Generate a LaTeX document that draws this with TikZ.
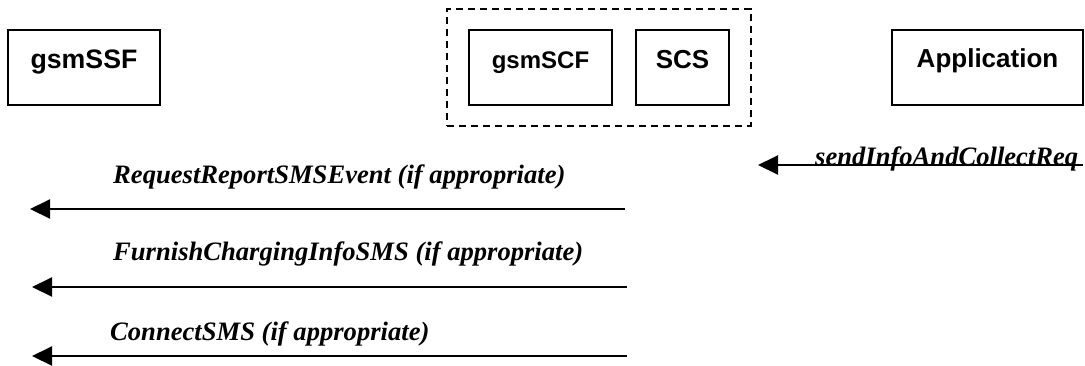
\documentclass[tikz,border=0pt]{standalone}
\usepackage{fontspec}
\setmainfont{Liberation Serif}
\setsansfont{Liberation Sans}
\usetikzlibrary{arrows.meta,positioning,fit}

\begin{document}
\begin{tikzpicture}[x=1pt,y=-1pt,
  entity/.style={draw, line width=1.6pt, inner sep=0pt, minimum height=75pt,
    text height=38pt, text depth=37pt,
    font=\sffamily\bfseries\fontsize{26}{30}\selectfont},
  msg/.style={font=\bfseries\itshape\fontsize{26.6}{30}\selectfont, inner sep=0pt},
  call/.style={line width=2pt, -{Triangle[length=20pt,width=19pt]}}]
\useasboundingbox (0,0) rectangle (1085,365);

% Draw entities
\node[entity, minimum width=152pt, font=\sffamily\bfseries\fontsize{26.7}{30}\selectfont] (ssf) at (84,67.5) {gsmSSF};
\node[entity, minimum width=143pt, font=\sffamily\bfseries\fontsize{24}{30}\selectfont] (scf) at (540.5,67.5) {gsmSCF};
\node[entity, minimum width=93pt] (scs) at (682.5,67.5) {SCS};
\node[entity, minimum width=191pt, text height=37pt, text depth=38pt] (app) at (987.5,67.5) {Application};

% Dashed box round gsmSCF and SCS
\node[draw, line width=1.8pt, dash pattern=on 7pt off 5pt, inner xsep=21pt, inner ysep=20pt,
  fit=(scf)(scs)] (scp) {};

% Application to SCS
\coordinate (app0) at (1083,165);
\coordinate (scs0) at (758,165);
\draw[call] (app0) -- (scs0);
\node[msg, anchor=base west] (m0) at (815,165) {sendInfoAndCollectReq};

% SCS/gsmSCF to gsmSSF
\coordinate (scf1) at (625,209);
\coordinate (ssf1) at (30,209);
\draw[call] (scf1) -- (ssf1);
\node[msg, anchor=base west] (m1) at (113,183) {RequestReportSMSEvent (if appropriate)};

\coordinate (scf2) at (627,287);
\coordinate (ssf2) at (32,287);
\draw[call] (scf2) -- (ssf2);
\node[msg, anchor=base west] (m2) at (113,260) {FurnishChargingInfoSMS (if appropriate)};

\coordinate (scf3) at (627,356);
\coordinate (ssf3) at (32,356);
\draw[call] (scf3) -- (ssf3);
\node[msg, anchor=base west] (m3) at (110,340) {ConnectSMS (if appropriate)};
\end{tikzpicture}
\end{document}
